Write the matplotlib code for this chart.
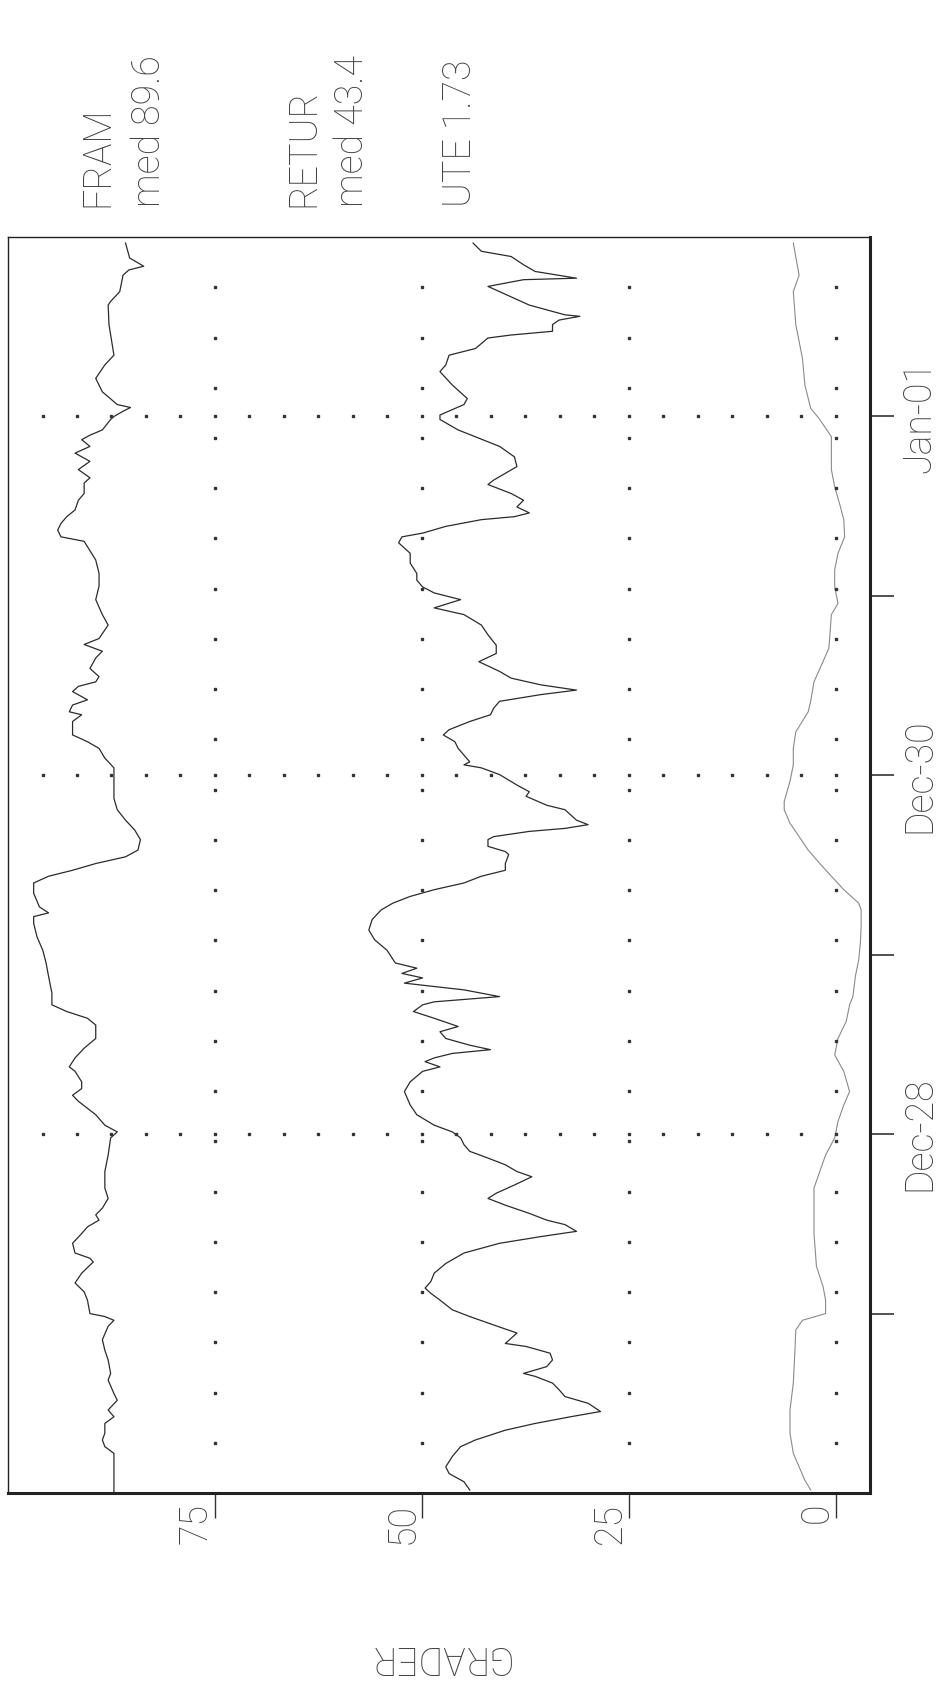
import matplotlib
matplotlib.use("Agg")
import matplotlib.pyplot as plt
import matplotlib.dates as mdates
import pandas as pd

plt.rcParams['font.family'] = ['Roboto', 'DejaVu Sans']
plt.rcParams['font.weight'] = 'light'

start = pd.Timestamp('1990-12-26 00:00')
n_days = 7

# hours after start / degrees
fram_h = [0.0, 1.7, 3.5, 5.3, 6.2, 7.1, 8.0, 9.3, 10.2, 11.1,
          12.4, 13.3, 15.1, 16.0, 17.8, 19.1, 20.5, 22.3, 23.1, 23.6,
          24.0, 25.8, 26.9, 28.1, 29.4, 30.9, 31.4, 32.1, 33.4, 34.7,
          35.6, 36.5, 37.2, 38.1, 39.4, 40.8, 43.0, 45.2, 47.5, 48.3,
          49.2, 50.6, 52.4, 53.2, 54.1, 55.0, 56.4, 57.0, 58.2, 59.5,
          60.8, 62.6, 63.5, 64.4, 65.3, 66.9, 69.1, 70.9, 72.6, 74.4,
          76.2, 77.1, 77.6, 78.4, 80.2, 81.6, 82.5, 83.3, 84.2, 85.1,
          86.0, 87.4, 88.7, 90.0, 91.4, 92.9, 95.2, 97.0, 98.3, 99.6,
          100.5, 101.4, 103.2, 104.1, 104.5, 105.4, 106.1, 107.2, 107.9, 108.5,
          109.2, 110.3, 111.7, 112.6, 113.5, 114.3, 116.1, 117.5, 119.5, 121.3,
          123.0, 124.8, 126.6, 127.3, 127.9, 128.8, 129.7, 130.6, 131.5, 132.8,
          133.7, 135.1, 135.8, 136.9, 138.0, 139.1, 140.0, 140.9, 141.5, 142.2,
          143.6, 144.0, 144.7, 145.2, 145.6, 147.3, 149.1, 150.9, 152.2, 156.3,
          158.9, 159.4, 160.7, 162.9, 163.6, 164.1, 165.2, 167.2]
fram_v = [87.2, 87.2, 87.2, 87.2, 88.3, 88.6, 88.3, 88.3, 87.2, 87.9,
          86.8, 87.2, 87.9, 87.6, 87.9, 88.3, 88.6, 87.9, 87.2, 88.3,
          90.1, 90.4, 90.8, 91.9, 91.1, 89.7, 90.1, 91.9, 92.2, 91.1,
          90.4, 89.0, 89.4, 88.6, 87.9, 88.3, 88.3, 87.9, 87.6, 86.8,
          88.3, 89.4, 91.5, 92.2, 91.1, 91.1, 91.9, 92.6, 91.9, 90.8,
          89.4, 89.4, 90.4, 92.9, 94.7, 94.7, 95.1, 95.4, 95.8, 96.5,
          96.9, 96.9, 95.1, 96.2, 96.9, 96.9, 95.1, 92.2, 89.4, 85.8,
          84.3, 84.0, 84.7, 85.8, 86.8, 87.2, 87.2, 87.2, 88.3, 89.0,
          90.4, 92.2, 92.2, 91.1, 92.6, 92.2, 90.4, 92.2, 91.5, 89.4,
          89.0, 90.1, 89.4, 88.6, 90.8, 89.0, 87.9, 88.6, 89.4, 89.0,
          89.0, 89.4, 90.4, 90.8, 93.6, 94.0, 93.6, 92.9, 91.9, 91.5,
          90.8, 90.8, 90.1, 91.5, 90.1, 91.9, 90.1, 91.1, 90.1, 88.6,
          87.6, 87.2, 86.1, 85.2, 86.8, 88.6, 89.4, 88.3, 87.2, 87.8,
          87.9, 87.6, 86.5, 86.1, 85.4, 83.6, 85.3, 85.8]

retur_h = [0.4, 1.5, 2.6, 3.5, 4.9, 6.2, 7.1, 8.4, 9.3, 10.2,
           10.9, 12.0, 12.9, 13.8, 14.7, 15.6, 16.0, 16.9, 17.8, 18.7,
           19.6, 20.0, 20.7, 21.4, 22.2, 23.6, 24.5, 25.8, 26.7, 27.4,
           28.3, 29.4, 30.7, 32.1, 33.4, 34.3, 35.0, 35.9, 36.5, 37.4,
           38.5, 39.4, 40.1, 41.2, 42.3, 43.0, 43.9, 44.8, 45.7, 46.6,
           47.5, 48.3, 49.2, 50.6, 51.9, 53.7, 55.0, 56.4, 57.0, 57.7,
           58.2, 58.8, 59.3, 59.9, 60.8, 61.7, 62.4, 63.5, 64.4, 65.3,
           65.7, 66.4, 67.3, 68.2, 68.9, 69.5, 70.2, 70.9, 72.6, 74.0,
           75.3, 76.7, 78.0, 78.9, 79.8, 80.7, 81.6, 82.5, 83.3, 84.2,
           85.4, 85.8, 86.5, 87.4, 87.8, 88.5, 88.9, 89.4, 90.0, 91.4,
           92.0, 93.2, 93.8, 94.7, 96.1, 97.0, 97.4, 97.8, 98.7, 99.6,
           100.5, 101.4, 102.1, 103.2, 104.1, 105.0, 105.9, 106.8, 107.4, 108.1,
           109.0, 109.9, 111.2, 112.3, 113.4, 114.8, 116.1, 117.5, 118.4, 119.5,
           120.4, 121.2, 122.1, 123.0, 124.4, 125.7, 127.1, 127.9, 128.4, 129.3,
           130.2, 130.6, 131.1, 131.9, 132.8, 133.7, 134.9, 135.5, 137.3, 138.6,
           140.0, 142.2, 143.6, 144.2, 145.6, 146.4, 148.2, 150.0, 150.9, 152.2,
           153.1, 154.5, 154.9, 155.4, 156.3, 156.9, 157.4, 157.6, 158.9, 160.7,
           161.4, 162.3, 162.5, 163.4, 164.3, 165.4, 166.1, 167.2]
retur_v = [44.2, 44.9, 46.7, 47.1, 46.3, 45.3, 43.5, 39.9, 36.3, 32.0,
           28.4, 29.9, 32.7, 33.4, 34.2, 36.3, 37.7, 34.9, 34.2, 34.5,
           37.4, 39.9, 39.2, 38.5, 40.6, 44.2, 46.3, 47.8, 48.9, 49.6,
           48.9, 48.5, 47.1, 44.9, 40.6, 35.6, 31.3, 32.7, 34.9, 37.0,
           39.9, 42.0, 41.0, 38.8, 36.7, 38.5, 39.9, 42.0, 44.2, 44.9,
           45.3, 46.3, 48.5, 50.6, 51.4, 52.1, 51.4, 49.9, 47.8, 49.6,
           48.5, 46.3, 41.7, 44.2, 47.1, 47.8, 45.6, 48.5, 51.0, 49.9,
           48.5, 40.6, 44.9, 52.1, 49.9, 52.4, 50.6, 53.2, 54.2, 55.7,
           56.4, 56.0, 54.9, 53.5, 51.4, 48.5, 44.9, 42.8, 39.9, 39.9,
           39.5, 39.9, 42.0, 42.0, 41.3, 37.0, 32.7, 29.9, 31.3, 32.7,
           34.9, 37.4, 37.0, 38.5, 40.6, 42.8, 44.9, 44.2, 44.9, 45.6,
           46.0, 47.4, 46.7, 44.2, 41.7, 41.3, 40.6, 35.6, 31.3, 35.6,
           39.2, 40.6, 43.1, 41.0, 41.0, 42.0, 42.8, 44.9, 48.5, 45.3,
           48.5, 49.9, 50.6, 50.6, 51.4, 51.4, 52.8, 52.4, 49.9, 47.1,
           42.8, 38.8, 37.0, 38.5, 37.7, 39.2, 42.0, 41.3, 38.5, 38.8,
           40.6, 45.6, 47.8, 47.8, 44.9, 44.5, 46.3, 47.8, 47.1, 46.7,
           43.5, 42.0, 39.2, 34.2, 34.2, 33.4, 30.9, 32.7, 37.0, 40.6,
           42.0, 37.7, 31.3, 36.3, 37.7, 39.2, 42.8, 43.8]

ute_h = [0.4, 1.7, 3.5, 5.3, 8.0, 11.1, 14.7, 19.1, 21.8, 23.1,
         24.0, 25.8, 27.6, 30.3, 34.7, 39.2, 40.8, 43.0, 45.2, 47.5,
         49.7, 51.9, 53.7, 56.4, 58.6, 60.8, 63.1, 65.3, 66.4, 69.1,
         71.3, 73.5, 75.8, 78.0, 78.9, 80.7, 82.5, 84.2, 86.0, 87.8,
         89.6, 91.4, 92.5, 95.2, 97.4, 99.6, 101.8, 104.5, 105.9, 108.5,
         113.0, 117.5, 119.0, 121.2, 123.5, 125.7, 127.9, 130.2, 131.9, 134.6,
         136.9, 141.3, 143.6, 145.1, 148.2, 151.8, 156.3, 160.7, 162.9, 167.2]
ute_v = [3.0, 3.7, 4.4, 5.1, 5.5, 5.5, 5.1, 4.9, 4.8, 4.0,
         1.2, 1.2, 1.5, 2.3, 2.6, 2.6, 2.6, 1.9, 1.2, 0.1,
         -0.3, -1.0, -1.7, -1.0, 0.1, -0.3, -1.3, -1.7, -2.1, -2.4,
         -2.8, -3.0, -3.1, -3.1, -2.8, -1.0, 0.5, 1.9, 3.3, 4.4,
         5.5, 6.2, 6.2, 5.5, 5.1, 5.1, 4.8, 3.3, 3.0, 2.6,
         0.8, 0.5, -0.3, 0.1, 0.1, -0.3, -1.1, -1.0, -0.6, 0.1,
         0.5, 0.5, 1.9, 3.0, 3.7, 4.0, 4.8, 5.1, 4.4, 5.1]

grader_ticks = [0, 25, 50, 75]
legend_texts = ["FRAM", "med 89.6", "RETUR", "med 43.4", "UTE 1.73"]

ink = '#333333'


def to_time(hours):
    return (start + pd.to_timedelta(hours, unit='h')).to_numpy()


fig = plt.figure(figsize=(9.44, 16.91), dpi=100)
ax = fig.add_axes([0.0085, 0.1171, 0.9131, 0.7427])

ax.plot(fram_v, to_time(fram_h), color='#2b2b2b', lw=0.9)
ax.plot(retur_v, to_time(retur_h), color='#2b2b2b', lw=0.9)
ax.plot(ute_v, to_time(ute_h), color='#8a8a8a', lw=0.8)

xmax, xmin = 100, -25 / 6
ax.set_xlim(xmax, xmin)
t0 = mdates.date2num(start)
ax.set_ylim(t0, t0 + n_days)

# dotted grid, 25 dots over each axis length
major_days = mdates.date2num(pd.date_range(start, periods=n_days + 1, freq='D')[2::2][:3])
step_x = (xmax - xmin) / 25
row_x = [k * step_x for k in range(24)]
for d in major_days:
    ax.plot(row_x, [d] * len(row_x), ls='none', marker='s', ms=1.8, color=ink)
col_y = [t0 + k * n_days / 25 for k in range(1, 25)]
for g in grader_ticks:
    ax.plot([g] * len(col_y), col_y, ls='none', marker='s', ms=1.8, color=ink)

for side in ['left', 'top']:
    ax.spines[side].set_linewidth(1.0)
    ax.spines[side].set_color('#222222')
for side in ['right', 'bottom']:
    ax.spines[side].set_linewidth(2.2)
    ax.spines[side].set_color('#222222')

ax.set_xticks(grader_ticks)
ax.set_xticklabels([str(g) for g in grader_ticks])
ax.tick_params(axis='x', direction='out', length=18, width=1.0, pad=-11,
               labelsize=27, labelcolor='#444444', color='#333333')
for lbl in ax.get_xticklabels():
    lbl.set_rotation(90)
    lbl.set_ha('right')
    lbl.set_va('top')

ax.yaxis.set_major_locator(mdates.DayLocator(bymonthday=[28, 30, 1]))
ax.yaxis.set_minor_locator(mdates.DayLocator(bymonthday=[27, 29, 31]))
ax.yaxis.set_major_formatter(mdates.DateFormatter('%b-%d'))
ax.tick_params(axis='y', which='both', left=False, right=True, labelleft=False,
               labelright=True, direction='out', length=17, width=1.2,
               color='#333333')
ax.tick_params(axis='y', which='major', pad=5, labelsize=27,
               labelcolor='#444444', labelrotation=90)
for lbl in ax.get_yticklabels():
    lbl.set_va('center')

# legend texts at top, rotated like the rest of the sheet
text_x = [98, 149, 304, 352, 460]
for s, x in zip(legend_texts, text_x):
    fig.text(x / 944, 1 - 207 / 1691, s, rotation=90, ha='center', va='bottom',
             fontsize=27, color='#444444')

fig.text(437 / 944, 1 - 1657 / 1691, "GRADER", rotation=180, ha='center',
         va='center', fontsize=27, color='#444444')

fig.savefig("out.png", dpi=100, facecolor='white')
